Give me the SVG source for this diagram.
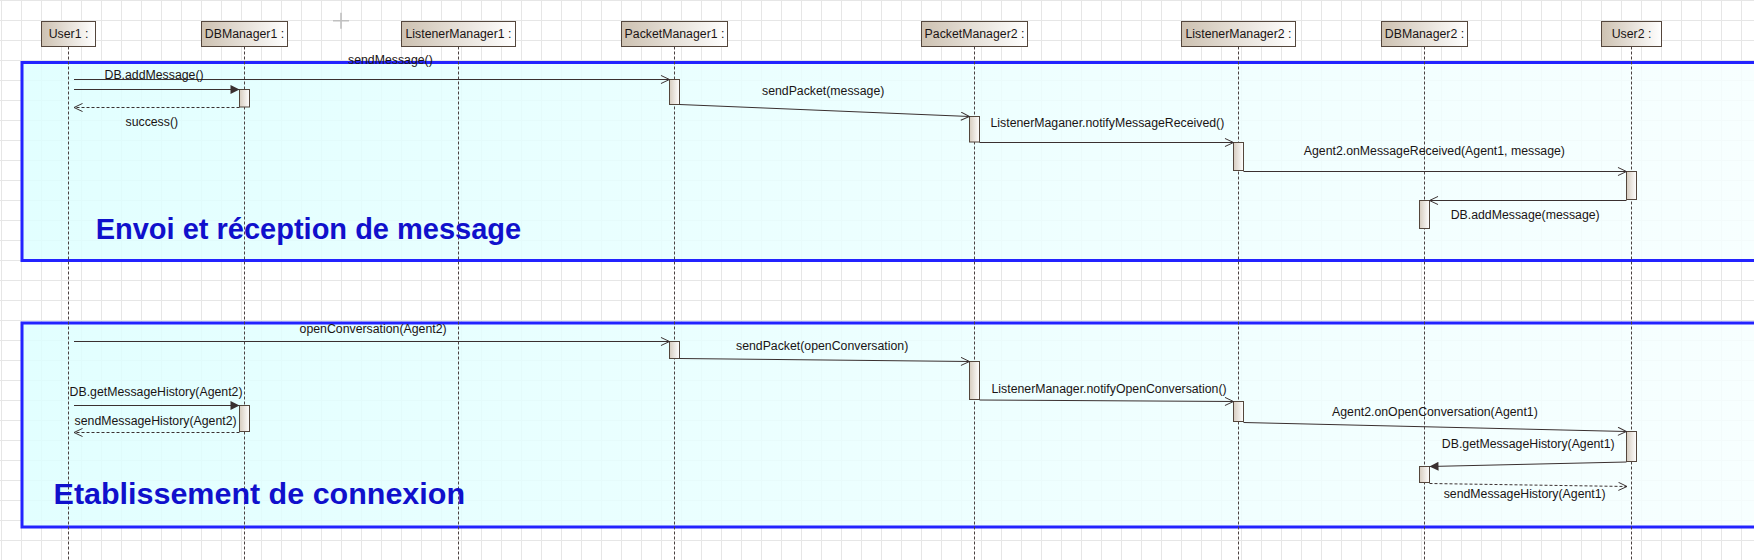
<svg xmlns="http://www.w3.org/2000/svg" width="1754" height="560" viewBox="0 0 1754 560">
<defs>
  <pattern id="grid" x="0" y="0" width="20" height="20" patternUnits="userSpaceOnUse">
    <path d="M1.5,0 V20 M0,0.5 H20" fill="none" stroke="#e6e6e6" stroke-width="1"/>
  </pattern>
  <linearGradient id="frameFill" x1="0" y1="0" x2="1" y2="0">
    <stop offset="0" stop-color="#ddffff"/>
    <stop offset="1" stop-color="#f6ffff"/>
  </linearGradient>
  <linearGradient id="boxFill" x1="0" y1="0" x2="1" y2="0">
    <stop offset="0" stop-color="#cdc1b1"/>
    <stop offset="1" stop-color="#ffffff"/>
  </linearGradient>
  <linearGradient id="actFill" x1="0" y1="0" x2="1" y2="0">
    <stop offset="0" stop-color="#d6ccbf"/>
    <stop offset="1" stop-color="#ffffff"/>
  </linearGradient>
  <marker id="open" viewBox="0 0 10 10" refX="10" refY="5" markerWidth="10" markerHeight="9" markerUnits="userSpaceOnUse" orient="auto">
    <path d="M0.5,0.5 L10,5 L0.5,9.5" fill="none" stroke="#3a3030" stroke-width="1.1"/>
  </marker>
  <marker id="filled" viewBox="0 0 10 10" refX="10" refY="5" markerWidth="10" markerHeight="9" markerUnits="userSpaceOnUse" orient="auto">
    <path d="M0,0 L10,5 L0,10 z" fill="#3a3030"/>
  </marker>
</defs>
<style>
  .lbl { font-family: "Liberation Sans", Arial, sans-serif; font-size: 12.3px; fill: #1a1414; }
  .box { fill: url(#boxFill); stroke: #54463c; stroke-width: 1; }
  .act { fill: url(#actFill); stroke: #54463c; stroke-width: 1; }
  .life { stroke: #4a4040; stroke-width: 1; stroke-dasharray: 3 2; fill: none; }
  .msg { stroke: #3a3030; stroke-width: 1; fill: none; }
  .ret { stroke: #3a3030; stroke-width: 1; fill: none; stroke-dasharray: 3 2; }
  .frame { fill: url(#frameFill); fill-opacity: 0.85; stroke: #2323ff; stroke-width: 3; }
  .title { font-family: "Liberation Sans", Arial, sans-serif; font-size: 29.5px; font-weight: bold; fill: #1010cc; }
</style>

<rect width="1754" height="560" fill="#ffffff"/>
<rect width="1754" height="560" fill="url(#grid)"/>
<path d="M333,20.7 H349 M341,12.7 V28.7" stroke="#c0c0c0" stroke-width="1.6"/>

<g id="frame-envoi">
  <rect class="frame" x="22" y="62.5" width="1760" height="198"/>
</g>
<g id="frame-etablissement">
  <rect class="frame" x="22" y="323" width="1760" height="204"/>
</g>

<g id="lifelines">
  <line class="life" x1="68.5" y1="46.5" x2="68.5" y2="560"/>
  <line class="life" x1="244.5" y1="46.5" x2="244.5" y2="560"/>
  <line class="life" x1="458.5" y1="46.5" x2="458.5" y2="560"/>
  <line class="life" x1="674.5" y1="46.5" x2="674.5" y2="560"/>
  <line class="life" x1="974.5" y1="46.5" x2="974.5" y2="560"/>
  <line class="life" x1="1238.5" y1="46.5" x2="1238.5" y2="560"/>
  <line class="life" x1="1424.5" y1="46.5" x2="1424.5" y2="560"/>
  <line class="life" x1="1631.5" y1="46.5" x2="1631.5" y2="560"/>
</g>

<g id="User1">
  <rect class="box" x="41.5" y="21.5" width="54" height="25"/>
  <text class="lbl" x="68.5" y="38" text-anchor="middle">User1 :</text>
</g>
<g id="DBManager1">
  <rect class="box" x="201.5" y="21.5" width="86" height="25"/>
  <text class="lbl" x="244.5" y="38" text-anchor="middle">DBManager1 :</text>
</g>
<g id="ListenerManager1">
  <rect class="box" x="401.5" y="21.5" width="114" height="25"/>
  <text class="lbl" x="458.5" y="38" text-anchor="middle">ListenerManager1 :</text>
</g>
<g id="PacketManager1">
  <rect class="box" x="621.5" y="21.5" width="106" height="25"/>
  <text class="lbl" x="674.5" y="38" text-anchor="middle">PacketManager1 :</text>
</g>
<g id="PacketManager2">
  <rect class="box" x="921.5" y="21.5" width="106" height="25"/>
  <text class="lbl" x="974.5" y="38" text-anchor="middle">PacketManager2 :</text>
</g>
<g id="ListenerManager2">
  <rect class="box" x="1181.5" y="21.5" width="114" height="25"/>
  <text class="lbl" x="1238.5" y="38" text-anchor="middle">ListenerManager2 :</text>
</g>
<g id="DBManager2">
  <rect class="box" x="1381.5" y="21.5" width="86" height="25"/>
  <text class="lbl" x="1424.5" y="38" text-anchor="middle">DBManager2 :</text>
</g>
<g id="User2">
  <rect class="box" x="1601.5" y="21.5" width="60" height="25"/>
  <text class="lbl" x="1631.5" y="38" text-anchor="middle">User2 :</text>
</g>

<g id="activations">
  <rect class="act" x="239.5" y="89.5" width="10" height="17.5"/>
  <rect class="act" x="669.5" y="79.5" width="10" height="25"/>
  <rect class="act" x="969.5" y="116.5" width="10" height="25.5"/>
  <rect class="act" x="1233.5" y="142.5" width="10" height="28"/>
  <rect class="act" x="1626.5" y="171.5" width="10" height="28"/>
  <rect class="act" x="1419.5" y="200.5" width="10" height="28"/>
  <rect class="act" x="669.5" y="341.5" width="10" height="17"/>
  <rect class="act" x="969.5" y="361.5" width="10" height="38"/>
  <rect class="act" x="1233.5" y="401.5" width="10" height="20"/>
  <rect class="act" x="1626.5" y="431.5" width="10" height="30"/>
  <rect class="act" x="1419.5" y="466.5" width="10" height="16"/>
  <rect class="act" x="239.5" y="405.5" width="10" height="26"/>
</g>

<g id="connectors">
  <line class="msg" x1="74" y1="79.5" x2="669.5" y2="79.5" marker-end="url(#open)"/>
  <line class="msg" x1="74" y1="89.5" x2="239.5" y2="89.5" marker-end="url(#filled)"/>
  <line class="ret" x1="239.5" y1="107.5" x2="74" y2="107.5" marker-end="url(#open)"/>
  <line class="msg" x1="679.5" y1="104.5" x2="969.5" y2="116.5" marker-end="url(#open)"/>
  <line class="msg" x1="979.5" y1="142.5" x2="1233.5" y2="142.5" marker-end="url(#open)"/>
  <line class="msg" x1="1243.5" y1="171.5" x2="1626.5" y2="171.5" marker-end="url(#open)"/>
  <line class="msg" x1="1626.5" y1="200.5" x2="1429.5" y2="200.5" marker-end="url(#open)"/>

  <line class="msg" x1="74" y1="341.5" x2="669.5" y2="341.5" marker-end="url(#open)"/>
  <line class="msg" x1="679.5" y1="358.5" x2="969.5" y2="361.5" marker-end="url(#open)"/>
  <line class="msg" x1="979.5" y1="400" x2="1233.5" y2="401.5" marker-end="url(#open)"/>
  <line class="msg" x1="1243.5" y1="422.5" x2="1626.5" y2="431.5" marker-end="url(#open)"/>
  <line class="msg" x1="1626.5" y1="462" x2="1429.5" y2="466.5" marker-end="url(#filled)"/>
  <line class="ret" x1="1429.5" y1="483.5" x2="1627" y2="486.5" marker-end="url(#open)"/>
  <line class="msg" x1="74" y1="405.5" x2="239.5" y2="405.5" marker-end="url(#filled)"/>
  <line class="ret" x1="239.5" y1="432.5" x2="74" y2="432.5" marker-end="url(#open)"/>
</g>

<g id="labels">
  <text class="lbl" x="348" y="64">sendMessage()</text>
  <text class="lbl" x="104.5" y="79">DB.addMessage()</text>
  <text class="lbl" x="125.5" y="125.7">success()</text>
  <text class="lbl" x="762" y="95">sendPacket(message)</text>
  <text class="lbl" x="990.5" y="126.5">ListenerMaganer.notifyMessageReceived()</text>
  <text class="lbl" x="1303.8" y="155">Agent2.onMessageReceived(Agent1, message)</text>
  <text class="lbl" x="1450.7" y="219">DB.addMessage(message)</text>
  <text class="title" x="95.7" y="239.3" textLength="425.5" lengthAdjust="spacingAndGlyphs">Envoi et réception de message</text>

  <text class="lbl" x="299.6" y="333.3">openConversation(Agent2)</text>
  <text class="lbl" x="736" y="349.7">sendPacket(openConversation)</text>
  <text class="lbl" x="69.6" y="395.7">DB.getMessageHistory(Agent2)</text>
  <text class="lbl" x="74.6" y="424.7">sendMessageHistory(Agent2)</text>
  <text class="lbl" x="991.5" y="392.7">ListenerManager.notifyOpenConversation()</text>
  <text class="lbl" x="1332" y="416">Agent2.onOpenConversation(Agent1)</text>
  <text class="lbl" x="1441.8" y="447.7">DB.getMessageHistory(Agent1)</text>
  <text class="lbl" x="1443.7" y="498">sendMessageHistory(Agent1)</text>
  <text class="title" x="53.6" y="504.3" textLength="411.4" lengthAdjust="spacingAndGlyphs">Etablissement de connexion</text>
</g>
</svg>
